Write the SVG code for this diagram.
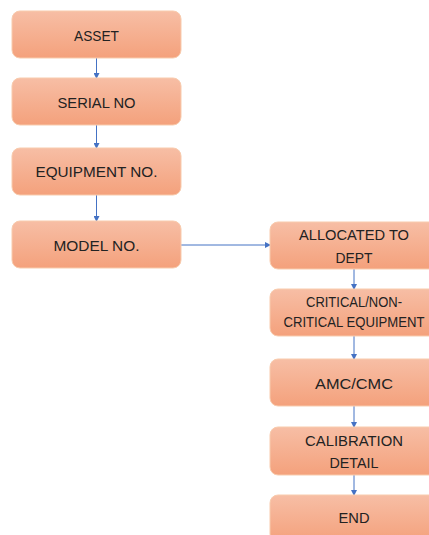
<svg xmlns="http://www.w3.org/2000/svg" width="429" height="535" viewBox="0 0 429 535">
<defs>
<linearGradient id="g" x1="0" y1="0" x2="0" y2="1">
<stop offset="0" stop-color="#F7BEA5"/>
<stop offset="1" stop-color="#F4A17C"/>
</linearGradient>
<marker id="ah" markerWidth="6" markerHeight="6" refX="5" refY="3" orient="auto" markerUnits="userSpaceOnUse">
<path d="M0,0 L6,3 L0,6 Z" fill="#4472C4"/>
</marker>
</defs>
<style>
.box{fill:url(#g);stroke:#F8CBAD;stroke-width:1}
.t{font-family:"Liberation Sans",Arial,sans-serif;font-size:15px;fill:#222;text-anchor:middle}
.s{font-size:14px}
.c{fill:none;stroke:#4472C4;stroke-width:1;marker-end:url(#ah)}
</style>
<rect width="429" height="535" fill="#fff"/>
<g id="connectors">
<line class="c" x1="96.5" y1="58" x2="96.5" y2="78"/>
<line class="c" x1="96.5" y1="125" x2="96.5" y2="148"/>
<line class="c" x1="96.5" y1="195" x2="96.5" y2="221"/>
<line class="c" x1="181" y1="245" x2="270" y2="245"/>
<line class="c" x1="354" y1="269" x2="354" y2="289"/>
<line class="c" x1="354" y1="336" x2="354" y2="359"/>
<line class="c" x1="354" y1="406" x2="354" y2="427"/>
<line class="c" x1="354" y1="475" x2="354" y2="495"/>
</g>
<g id="asset"><rect class="box" x="12" y="11" width="169" height="47" rx="8"/><text class="t" x="96.5" y="40.5" textLength="45" lengthAdjust="spacingAndGlyphs">ASSET</text></g>
<g id="serial"><rect class="box" x="12" y="78" width="169" height="47" rx="8"/><text class="t" x="96.5" y="108" textLength="78" lengthAdjust="spacingAndGlyphs">SERIAL NO</text></g>
<g id="equipment"><rect class="box" x="12" y="148" width="169" height="47" rx="8"/><text class="t" x="96.5" y="176.5" textLength="122" lengthAdjust="spacingAndGlyphs">EQUIPMENT NO.</text></g>
<g id="model"><rect class="box" x="12" y="221" width="169" height="47" rx="8"/><text class="t" x="96.5" y="250.5" textLength="86" lengthAdjust="spacingAndGlyphs">MODEL NO.</text></g>
<g id="allocated"><rect class="box" x="270" y="222" width="168" height="47" rx="8"/><text class="t" x="354" y="240" textLength="110" lengthAdjust="spacingAndGlyphs">ALLOCATED TO</text><text class="t" x="354" y="263" textLength="37" lengthAdjust="spacingAndGlyphs">DEPT</text></g>
<g id="critical"><rect class="box" x="270" y="289" width="168" height="47" rx="8"/><text class="t s" x="354" y="307" textLength="96" lengthAdjust="spacingAndGlyphs">CRITICAL/NON-</text><text class="t s" x="354" y="327" textLength="141" lengthAdjust="spacingAndGlyphs">CRITICAL EQUIPMENT</text></g>
<g id="amc"><rect class="box" x="270" y="359" width="168" height="47" rx="8"/><text class="t" x="354" y="389" textLength="78" lengthAdjust="spacingAndGlyphs">AMC/CMC</text></g>
<g id="calibration"><rect class="box" x="270" y="427" width="168" height="48" rx="8"/><text class="t" x="354" y="446" textLength="98" lengthAdjust="spacingAndGlyphs">CALIBRATION</text><text class="t" x="354" y="468" textLength="49" lengthAdjust="spacingAndGlyphs">DETAIL</text></g>
<g id="end"><rect class="box" x="270" y="495" width="168" height="47" rx="8"/><text class="t" x="354" y="523" textLength="31" lengthAdjust="spacingAndGlyphs">END</text></g>
</svg>
